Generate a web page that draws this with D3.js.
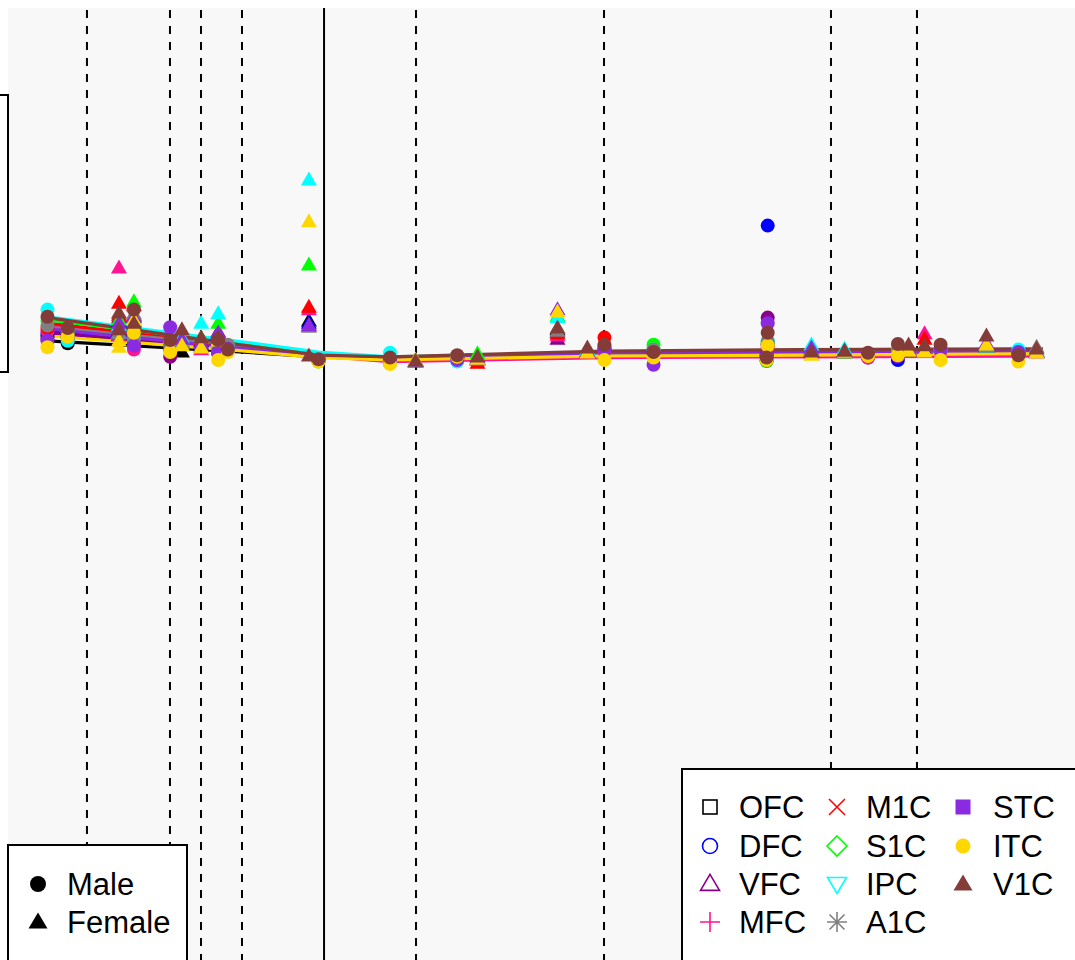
<!DOCTYPE html>
<html>
<head>
<meta charset="utf-8">
<script src="https://cdnjs.cloudflare.com/ajax/libs/d3/7.8.5/d3.min.js"></script>
<style>
  html, body { margin: 0; padding: 0; background: #ffffff; }
  svg { display: block; }
  text { font-family: "Liberation Sans", Arial, sans-serif; }
</style>
</head>
<body>
<div id="chart"></div>
<script>
// ---------------- data ----------------
const regions = ["OFC","DFC","VFC","MFC","M1C","S1C","IPC","A1C","STC","ITC","V1C"];
const regionColors = ["#000000","#0000FF","#8B008B","#FF1493","#FF0000","#00FF00","#00FFFF","#808080","#8A2BE2","#FFD700","#843C39"];
const legendShapes = ["openSquare","openCircle","openTriangle","plus","cross","openDiamond","openDownTriangle","asterisk","filledSquare","filledCircle","filledTriangle"];

const sexLabels = ["Male","Female"];

// period boundaries (dashed) and birth (solid), in age-axis units
const periodBounds = [7.40, 15.18, 18.09, 21.93, 38.24, 55.86, 77.13, 85.19];
const birthAge = 29.62;

// samples: age, sex, and one value per region (same order as regions)
const sampleAge = [3.7,5.6,10.4,10.4,11.8,11.8,15.2,16.3,18.1,19.7,19.7,20.6,28.2,29.1,35.8,38.2,42.1,44.0,51.5,54.3,55.9,60.5,71.2,71.1,75.3,78.4,80.6,83.4,84.4,85.9,87.4,91.7,94.7,96.4];
const sampleSex = ["M","M","F","F","F","M","M","F","F","F","M","M","F","M","M","F","M","F","F","F","M","M","M","M","F","F","M","M","F","F","M","F","M","F"];
const sampleValues = [
  [7.80,7.83,7.76,7.86,7.90,7.99,8.13,7.93,7.74,7.66,8.04],
  [7.71,7.78,7.79,7.75,7.83,7.84,7.74,7.80,7.81,7.79,7.90],
  [7.88,7.98,8.03,8.65,8.21,8.00,7.93,7.90,7.96,7.66,8.09],
  [7.81,7.85,7.88,7.80,8.06,7.94,7.84,7.84,7.90,7.74,7.88],
  [7.98,8.03,8.05,8.06,8.18,8.23,8.00,8.08,8.04,8.00,7.96],
  [7.81,7.84,7.70,7.63,7.88,7.94,7.78,7.79,7.68,7.84,8.13],
  [7.65,7.69,7.54,7.63,7.71,7.70,7.73,7.68,7.91,7.60,7.75],
  [7.60,7.69,7.71,7.73,7.75,7.74,7.78,7.70,7.76,7.68,7.88],
  [7.68,7.73,7.69,7.63,7.75,7.78,7.96,7.66,7.71,7.65,7.78],
  [7.75,7.81,7.85,7.78,7.80,7.96,8.08,7.79,7.84,7.74,7.78],
  [7.60,7.63,7.58,7.61,7.64,7.65,7.66,7.69,7.60,7.50,7.75],
  [7.63,7.64,7.65,7.63,7.66,7.65,7.68,7.69,7.64,7.60,7.63],
  [7.99,7.96,7.93,8.13,8.16,8.69,9.75,7.91,7.93,9.23,7.55],
  [7.50,7.50,7.50,7.49,7.50,7.48,7.51,7.49,7.50,7.48,7.51],
  [7.50,7.51,7.50,7.49,7.51,7.50,7.59,7.46,7.50,7.45,7.53],
  [7.48,7.49,7.48,7.48,7.49,7.49,7.49,7.48,7.49,7.50,7.49],
  [7.53,7.53,7.51,7.53,7.53,7.54,7.48,7.53,7.50,7.54,7.56],
  [7.51,7.53,7.51,7.50,7.46,7.58,7.51,7.50,7.51,7.51,7.54],
  [7.88,7.85,7.76,7.80,7.83,8.05,8.03,7.86,8.13,8.10,7.90],
  [7.60,7.61,7.60,7.59,7.60,7.61,7.63,7.61,7.60,7.59,7.65],
  [7.63,7.64,7.63,7.61,7.78,7.65,7.66,7.66,7.63,7.50,7.69],
  [7.60,7.61,7.60,7.59,7.63,7.69,7.63,7.63,7.44,7.53,7.60],
  [7.69,9.18,8.03,7.66,7.70,7.71,7.74,7.73,7.96,7.68,7.84],
  [7.49,7.56,7.53,7.54,7.55,7.49,7.54,7.53,7.55,7.50,7.53],
  [7.60,7.61,7.63,7.59,7.60,7.61,7.69,7.63,7.65,7.56,7.60],
  [7.60,7.61,7.60,7.59,7.61,7.59,7.64,7.61,7.61,7.60,7.61],
  [7.56,7.53,7.55,7.53,7.58,7.58,7.58,7.56,7.58,7.55,7.59],
  [7.59,7.50,7.54,7.60,7.61,7.61,7.60,7.60,7.55,7.56,7.70],
  [7.61,7.63,7.63,7.63,7.64,7.63,7.63,7.63,7.64,7.61,7.69],
  [7.65,7.65,7.65,7.83,7.76,7.65,7.65,7.65,7.65,7.60,7.68],
  [7.63,7.63,7.63,7.61,7.63,7.63,7.63,7.63,7.63,7.50,7.69],
  [7.66,7.66,7.66,7.66,7.66,7.66,7.66,7.66,7.71,7.69,7.80],
  [7.58,7.58,7.58,7.56,7.59,7.59,7.63,7.58,7.60,7.48,7.56],
  [7.60,7.60,7.60,7.59,7.60,7.60,7.61,7.66,7.60,7.59,7.64]
];

// fitted trend per region at these ages
const trendAge = [3.7, 20.6, 29.1, 35.8, 55.9, 74.2, 97.0];
const trendValues = [
  [7.74,7.61,7.54,7.51,7.58,7.59,7.59], // OFC
  [7.86,7.65,7.55,7.51,7.58,7.59,7.60], // DFC
  [7.84,7.65,7.54,7.51,7.58,7.60,7.61], // VFC
  [7.93,7.68,7.55,7.48,7.53,7.54,7.55], // MFC
  [7.96,7.70,7.56,7.51,7.59,7.61,7.63], // M1C
  [8.00,7.73,7.58,7.53,7.60,7.61,7.61], // S1C
  [8.04,7.75,7.60,7.54,7.59,7.60,7.60], // IPC
  [7.91,7.69,7.55,7.53,7.60,7.61,7.61], // A1C
  [7.89,7.66,7.55,7.53,7.59,7.60,7.61], // STC
  [7.80,7.63,7.53,7.50,7.55,7.56,7.58], // ITC
  [8.03,7.71,7.56,7.54,7.61,7.63,7.64]  // V1C
];

// ---------------- drawing ----------------
const W = 1075, H = 960;
const svg = d3.select("#chart").append("svg").attr("width", W).attr("height", H);

const x = d3.scaleLinear().domain([0, 100]).range([8, 1075]);
const y = d3.scaleLinear().domain([0, 11.9]).range([960, 8]);

svg.append("rect").attr("x", 0).attr("y", 0).attr("width", W).attr("height", H).attr("fill", "#ffffff");
// plot panel
svg.append("rect").attr("x", 8).attr("y", 8).attr("width", W - 8 + 20).attr("height", H).attr("fill", "#f8f8f8");

// left partial box
svg.append("rect").attr("x", -30).attr("y", 95).attr("width", 38).attr("height", 277)
  .attr("fill", "#ffffff").attr("stroke", "#000").attr("stroke-width", 2);

// period lines
svg.append("g").selectAll("line").data(periodBounds).join("line")
  .attr("x1", d => x(d)).attr("x2", d => x(d))
  .attr("y1", 10).attr("y2", H)
  .attr("stroke", "#000").attr("stroke-width", 2).attr("stroke-dasharray", "8,8");
svg.append("line").attr("x1", x(birthAge)).attr("x2", x(birthAge))
  .attr("y1", 8).attr("y2", H).attr("stroke", "#000").attr("stroke-width", 2);

// trend lines
const line = d3.line().x((d, i) => x(trendAge[i])).y(d => y(d));
svg.append("g").selectAll("path").data(trendValues).join("path")
  .attr("d", d => line(d))
  .attr("fill", "none")
  .attr("stroke", (d, i) => regionColors[i])
  .attr("stroke-width", 3.2)
  .attr("stroke-linejoin", "round");

// points: region-major order
function triPath(cx, cy, w, h) {
  return `M${cx},${cy - h * 0.6}L${cx + w / 2},${cy + h * 0.4}L${cx - w / 2},${cy + h * 0.4}Z`;
}
const pts = [];
regions.forEach((r, ri) => {
  sampleAge.forEach((a, si) => {
    pts.push({ age: a, sex: sampleSex[si], v: sampleValues[si][ri], ri });
  });
});
const gp = svg.append("g");
pts.forEach(p => {
  const cx = x(p.age), cy = y(p.v);
  if (p.sex === "M") {
    gp.append("circle").attr("cx", cx).attr("cy", cy).attr("r", 7).attr("fill", regionColors[p.ri]);
  } else {
    gp.append("path").attr("d", triPath(cx, cy, 16, 14)).attr("fill", regionColors[p.ri]);
  }
});

// region legend
const lg = svg.append("g");
lg.append("rect").attr("x", 682).attr("y", 769).attr("width", 420).attr("height", 240)
  .attr("fill", "#ffffff").attr("stroke", "#000").attr("stroke-width", 2);
const colSym = [710, 837, 963], colTxt = [739, 866, 993];
const rowSym = [807, 846, 884, 922];
regions.forEach((r, i) => {
  const col = Math.floor(i / 4), row = i % 4;
  const cx = colSym[col], cy = rowSym[row];
  const c = regionColors[i];
  const s = legendShapes[i];
  const g = lg.append("g");
  if (s === "openSquare") {
    g.append("rect").attr("x", cx - 7).attr("y", cy - 7).attr("width", 14).attr("height", 14)
      .attr("fill", "none").attr("stroke", c).attr("stroke-width", 1.6);
  } else if (s === "openCircle") {
    g.append("circle").attr("cx", cx).attr("cy", cy).attr("r", 7.5)
      .attr("fill", "none").attr("stroke", c).attr("stroke-width", 1.6);
  } else if (s === "openTriangle") {
    g.append("path").attr("d", triPath(cx, cy, 19, 16))
      .attr("fill", "none").attr("stroke", c).attr("stroke-width", 1.6);
  } else if (s === "plus") {
    g.append("path").attr("d", `M${cx - 10},${cy}H${cx + 10}M${cx},${cy - 10}V${cy + 10}`)
      .attr("stroke", c).attr("stroke-width", 1.6);
  } else if (s === "cross") {
    g.append("path").attr("d", `M${cx - 8},${cy - 8}L${cx + 8},${cy + 8}M${cx - 8},${cy + 8}L${cx + 8},${cy - 8}`)
      .attr("stroke", c).attr("stroke-width", 1.6);
  } else if (s === "openDiamond") {
    g.append("path").attr("d", `M${cx},${cy - 10}L${cx + 10},${cy}L${cx},${cy + 10}L${cx - 10},${cy}Z`)
      .attr("fill", "none").attr("stroke", c).attr("stroke-width", 1.6);
  } else if (s === "openDownTriangle") {
    g.append("path").attr("d", `M${cx},${cy + 9.5}L${cx + 9.5},${cy - 6.5}L${cx - 9.5},${cy - 6.5}Z`)
      .attr("fill", "none").attr("stroke", c).attr("stroke-width", 1.6);
  } else if (s === "asterisk") {
    g.append("path").attr("d", `M${cx - 10},${cy}H${cx + 10}M${cx},${cy - 10}V${cy + 10}M${cx - 7.5},${cy - 7.5}L${cx + 7.5},${cy + 7.5}M${cx - 7.5},${cy + 7.5}L${cx + 7.5},${cy - 7.5}`)
      .attr("stroke", c).attr("stroke-width", 1.6);
  } else if (s === "filledSquare") {
    g.append("rect").attr("x", cx - 7.5).attr("y", cy - 7.5).attr("width", 15).attr("height", 15).attr("fill", c);
  } else if (s === "filledCircle") {
    g.append("circle").attr("cx", cx).attr("cy", cy).attr("r", 7.5).attr("fill", c);
  } else if (s === "filledTriangle") {
    g.append("path").attr("d", triPath(cx, cy, 19, 16)).attr("fill", c);
  }
  lg.append("text").attr("x", colTxt[col]).attr("y", cy + 11)
    .attr("font-size", 31).attr("fill", "#000").text(r);
});

// sex legend
const sg = svg.append("g");
sg.append("rect").attr("x", 8).attr("y", 845).attr("width", 179).attr("height", 200)
  .attr("fill", "#ffffff").attr("stroke", "#000").attr("stroke-width", 2);
sg.append("circle").attr("cx", 38).attr("cy", 884).attr("r", 8).attr("fill", "#000");
sg.append("path").attr("d", triPath(38, 922, 19, 16)).attr("fill", "#000");
sg.append("text").attr("x", 67).attr("y", 895).attr("font-size", 31).text(sexLabels[0]);
sg.append("text").attr("x", 67).attr("y", 933).attr("font-size", 31).text(sexLabels[1]);
</script>
</body>
</html>
